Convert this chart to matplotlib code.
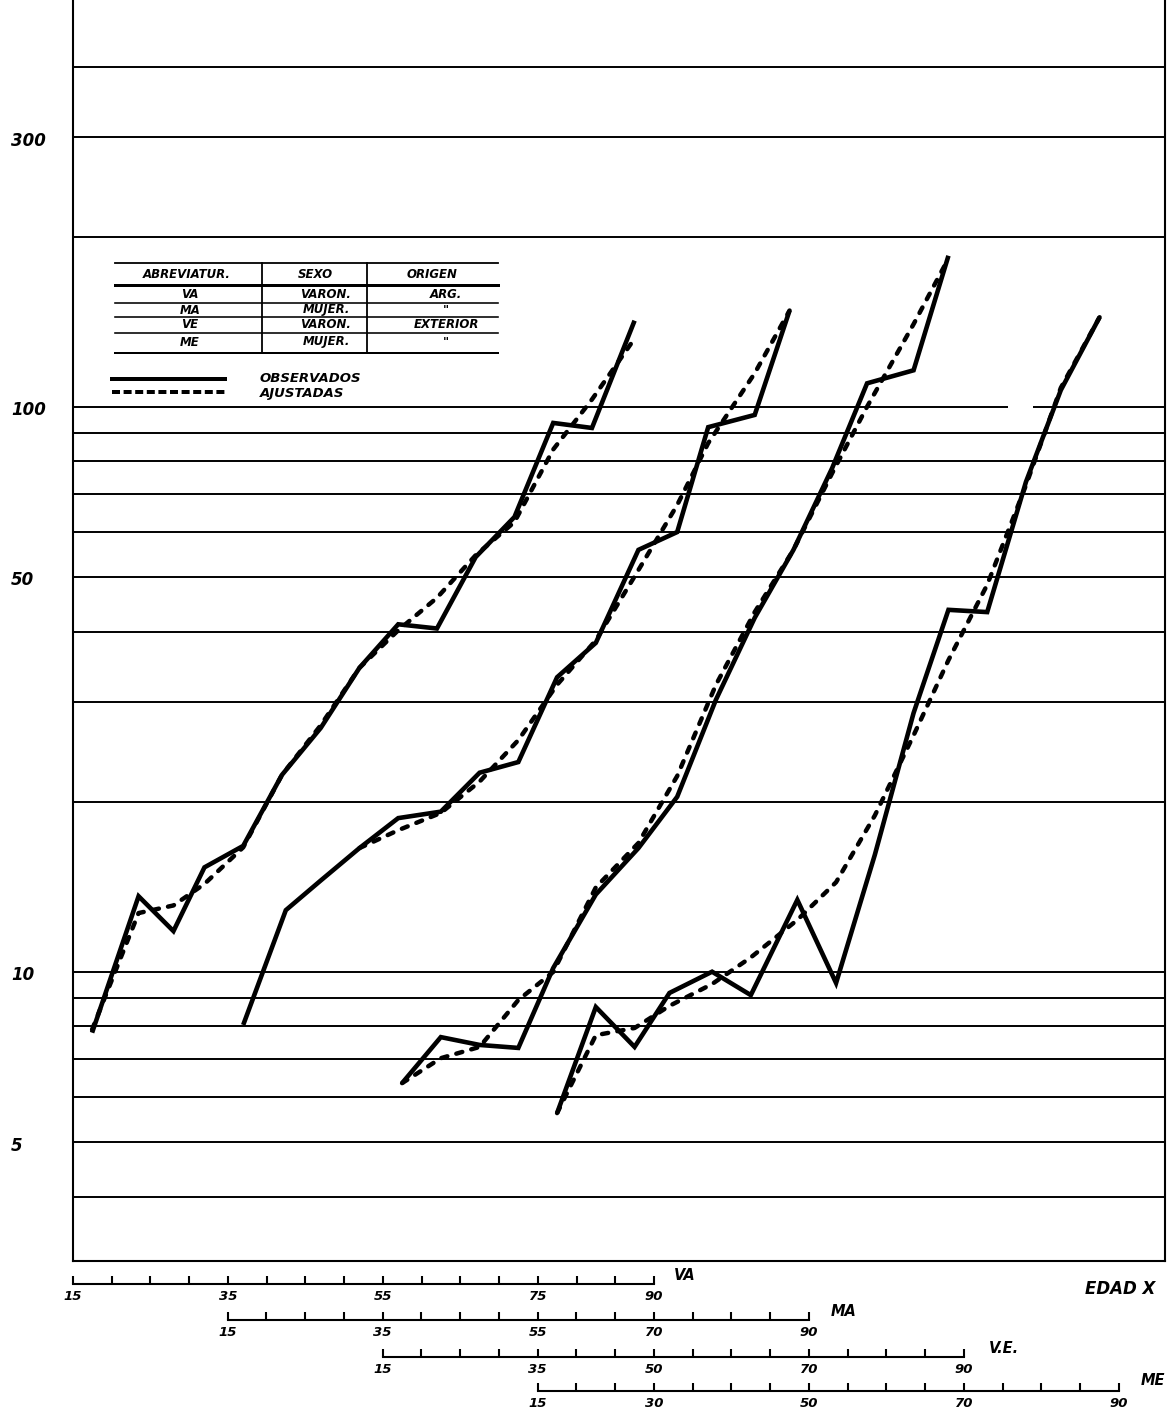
import numpy as np
import matplotlib
matplotlib.use('Agg')
import matplotlib.pyplot as plt
from matplotlib.lines import Line2D

W, H = 1174, 1412

# ages (years) and rates, one group per scale
va_ages = [17.5, 23.5, 28, 32, 37, 42, 47, 52, 57, 62, 67, 72, 77, 82, 87.5]
va_obs = [7.8, 13.6, 11.8, 15.3, 16.7, 22.3, 27.0, 34.5, 41.2, 40.5, 54.2, 63.8, 93.6, 91.7, 142]
va_adj = [7.9, 12.7, 13.1, 14.3, 16.6, 22.3, 27.3, 34.5, 40.2, 45.9, 54.6, 62.5, 84, 103, 132]

ma_ages = [17, 22.5, 27, 32, 37, 42.5, 47.5, 52.5, 57.5, 62.5, 68, 73, 77, 83, 87.5]
ma_obs = [8.05, 12.85, 14.5, 16.55, 18.7, 19.2, 22.5, 23.5, 33.2, 38.2, 55.8, 60.0, 92.0, 96.7, 148]
ma_adj_ages = [32, 37, 42.5, 47.5, 52.5, 57.5, 62.5, 68, 73, 77, 83, 87.5]
ma_adj = [16.55, 17.8, 19.1, 21.7, 25.7, 32.2, 38.6, 51.4, 67.0, 86.2, 114.6, 148]

ve_ages = [17.5, 22.5, 27.5, 32.5, 37, 42.5, 48, 53, 58, 63, 68, 73, 77.5, 83.5, 88]
ve_obs = [6.35, 7.66, 7.42, 7.33, 10.15, 13.7, 16.55, 20.4, 30.3, 42.3, 55.8, 77.9, 110, 116, 185]
ve_adj = [6.35, 7.03, 7.36, 8.91, 9.99, 14.1, 16.9, 22.2, 32.2, 43.3, 55.8, 76.3, 100, 140, 183]

me_ages = [17.5, 22.5, 27.5, 32, 37.5, 42.5, 48.5, 53.5, 58.5, 63.5, 68, 73, 78, 82.5, 87.5]
me_obs = [5.62, 8.66, 7.36, 9.17, 10.0, 9.09, 13.4, 9.55, 16.1, 28.7, 43.7, 43.3, 73.6, 107, 144]
me_adj = [5.62, 7.72, 7.95, 8.7, 9.51, 10.6, 12.35, 14.4, 18.9, 26.2, 35.6, 48.4, 72.6, 108, 144]

grid_values = [4, 5, 6, 7, 8, 9, 10, 20, 30, 40, 50, 60, 70, 80, 90, 100, 200, 300, 400]
y_labels = [300, 100, 50, 10, 5]

scale_names = ['VA', 'MA', 'V.E.', 'ME']
scale_shift = [0, 20, 40, 60]
scale_ticks = list(range(15, 91, 5))
scale_labels = [[15, 35, 55, 75, 90], [15, 35, 55, 70, 90],
                [15, 35, 50, 70, 90], [15, 30, 50, 70, 90]]

tab_header = ['ABREVIATUR.', 'SEXO', 'ORIGEN']
tab_abbr = ['VA', 'MA', 'VE', 'ME']
tab_sexo = ['VARON.', 'MUJER.', 'VARON.', 'MUJER.']
tab_origen = ['ARG.', '"', 'EXTERIOR', '"']

FONT = dict(family='DejaVu Sans', weight='bold', style='italic', color='black')

# pixel layout of the original sheet
X15, PX_YEAR = 72.7, 7.75
LEFT, RIGHT, BOTTOM = 73, 1165, 1261


def px_age(x):
    return 15 + (x - X15) / PX_YEAR


def fig_line(x0, y0, x1, y1, lw_px, **kw):
    fig.add_artist(Line2D([x0 / W, x1 / W], [1 - y0 / H, 1 - y1 / H],
                          transform=fig.transFigure, color='black',
                          lw=lw_px * 0.72, **kw))


def fig_text(x, y, s, size, **kw):
    fig.text(x / W, 1 - y / H, s, fontsize=size, va='center', **FONT, **kw)


fig = plt.figure(figsize=(W / 100, H / 100), dpi=100)
ax_rect = [LEFT / W, 1 - BOTTOM / H, (RIGHT - LEFT) / W, BOTTOM / H]
ax = fig.add_axes(ax_rect)
ax.set_yscale('log')
ax.set_xlim(px_age(LEFT), px_age(RIGHT))
ax.set_ylim(3.076, 524.6)
ax.set_xticks([])
ax.set_yticks([])
ax.minorticks_off()
ax.spines['top'].set_visible(False)
for s in ['left', 'right', 'bottom']:
    ax.spines[s].set_linewidth(1.5)

x0, x1 = ax.get_xlim()
for v in grid_values:
    if v == 100:
        # the hand drawn 100 line has a break near the right edge
        ax.hlines([v, v], [x0, 138.9], [135.7, x1], color='black', lw=1.4)
    else:
        ax.axhline(v, color='black', lw=1.4)

for v in y_labels:
    ax.text((11 - LEFT) / (RIGHT - LEFT), v * 0.985, str(v), fontsize=12,
            ha='left', va='center', transform=ax.get_yaxis_transform(),
            **FONT)

groups = [(va_ages, va_obs, va_ages, va_adj),
          (ma_ages, ma_obs, ma_adj_ages, ma_adj),
          (ve_ages, ve_obs, ve_ages, ve_adj),
          (me_ages, me_obs, me_ages, me_adj)]
for shift, (ages, obs, adj_ages, adj) in zip(scale_shift, groups):
    ax.plot(np.array(ages) + shift, obs, color='black', lw=3.3,
            solid_joinstyle='miter', solid_capstyle='butt')
    ax.plot(np.array(adj_ages) + shift, adj, color='black', lw=3.2,
            linestyle=(0, (1.4, 2.1)), dash_capstyle='round')

# age scales below the chart, each one shifted 20 years
scale_y = [1284, 1320, 1357, 1391]
name_off = [(14, 1), (16, 1), (18, 1), (16, 2)]
for i, name in enumerate(scale_names):
    sa = fig.add_axes([ax_rect[0], 1 - scale_y[i] / H, ax_rect[2], 1e-4])
    sa.set_xlim(x0 - scale_shift[i], x1 - scale_shift[i])
    for s in ['top', 'left', 'right']:
        sa.spines[s].set_visible(False)
    sa.spines['bottom'].set_bounds(15, 90)
    sa.spines['bottom'].set_linewidth(1.5)
    sa.set_yticks([])
    sa.set_xticks(scale_ticks)
    sa.set_xticklabels([str(t) if t in scale_labels[i] else '' for t in scale_ticks])
    sa.tick_params(axis='x', direction='in', length=5.5, width=1.5, pad=4)
    for lab in sa.get_xticklabels():
        lab.set_fontsize(9.5)
        lab.set_fontweight('bold')
        lab.set_fontstyle('italic')
    sa.patch.set_visible(False)
    sa.annotate(name, xy=(90, 0), xycoords=('data', 'axes fraction'),
                xytext=name_off[i], textcoords='offset points',
                fontsize=10.5, ha='left', va='bottom', **FONT)

fig_text(1120, 1289, 'EDAD X', 12, ha='center')

# key table in the upper left
tx0, tx1 = 115, 498
fig_line(tx0, 263, tx1, 263, 1.8)
fig_line(tx0, 285, tx1, 285, 3.0)
for y in [303, 317, 333]:
    fig_line(tx0, y, tx1, y, 1.6)
fig_line(tx0, 353, tx1, 353, 2.0)
for x in [262, 367]:
    fig_line(x, 263, x, 353, 1.8)

for x, s in zip([187, 315, 432], tab_header):
    fig_text(x, 275, s, 8.5, ha='center')
for y, a, b, c in zip([295, 310, 325, 342], tab_abbr, tab_sexo, tab_origen):
    fig_text(190, y, a, 8.5, ha='center')
    fig_text(326, y, b, 8.5, ha='center')
    fig_text(446, y, c, 8.5, ha='center')

fig_line(112, 379, 225, 379, 4.0)
fig_line(112, 392, 225, 392, 4.0, linestyle=(0, (2.0, 0.9)))
fig_text(260, 378, 'OBSERVADOS', 9.5, ha='left')
fig_text(260, 393, 'AJUSTADAS', 9.5, ha='left')

fig.savefig('out.png', dpi=100, facecolor='white')
